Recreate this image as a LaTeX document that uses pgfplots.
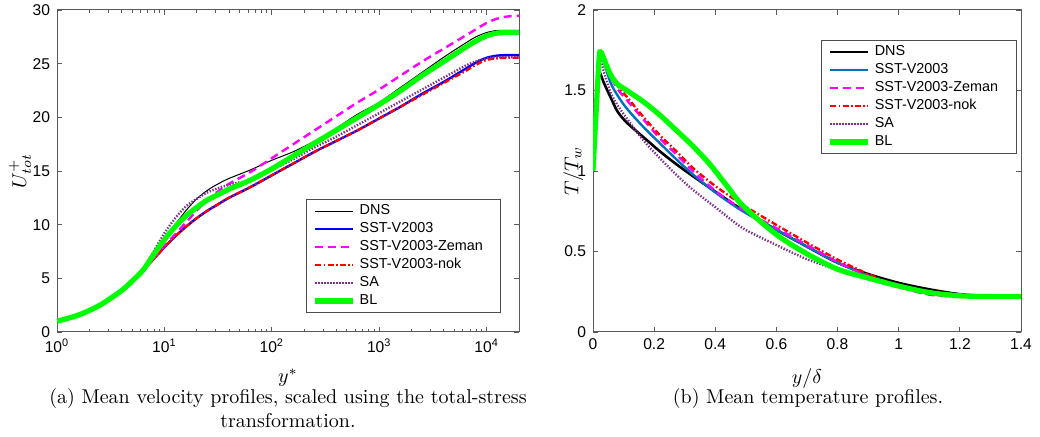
\documentclass[border=0pt]{standalone}
\usepackage{fontspec}
\usepackage{pgfplots}
\pgfplotsset{compat=1.18}
\newfontfamily\hv{Liberation Sans}
\definecolor{mblue}{rgb}{0,0,1}
\definecolor{mlblue}{rgb}{0,0.447,0.741}
\definecolor{mmag}{rgb}{1,0,1}
\definecolor{mred}{rgb}{1,0,0}
\definecolor{mpurp}{rgb}{0.494,0.184,0.557}
\definecolor{mgreen}{rgb}{0,1,0}
\pgfplotsset{
  mat/.style={
    scale only axis,
    axis line style={black!65, line width=0.5pt},
    tick style={black!65, line width=0.45pt},
    tick align=inside,
    major tick length=2.5pt,
    minor tick length=1.5pt,
    tick label style={font=\hv\fontsize{7.8}{9}\selectfont},
    /pgf/number format/assume math mode=true,
    label style={font=\fontsize{10}{12}\selectfont},
    legend cell align=left,
    legend image code/.code={\draw[##1] (0pt,0pt) -- (19pt,0pt);},
    legend style={font=\hv\fontsize{7.2}{8}\selectfont, draw=black!70, line width=0.5pt,
      inner xsep=3pt, inner ysep=2.5pt, row sep=2.5pt, column sep=2pt,
      nodes={inner sep=0pt, text height=5pt, text depth=1.5pt}},
  },
}
\begin{document}
\begin{tikzpicture}[x=1pt,y=1pt]
\useasboundingbox (0,0) rectangle (520,-218.5);
% ---------------- (a) ----------------
\begin{axis}[mat,
  at={(28.5pt,-166pt)}, anchor=south west,
  width=231pt, height=161pt,
  xmode=log, xmin=1, xmax=20000, ymin=0, ymax=30,
  xtick={1,10,100,1000,10000},
  xticklabels={10\textsuperscript{0},10\textsuperscript{1},10\textsuperscript{2},10\textsuperscript{3},10\textsuperscript{4}},
  minor xtick={2,3,4,5,6,7,8,9,20,30,40,50,60,70,80,90,200,300,400,500,600,700,800,900,2000,3000,4000,5000,6000,7000,8000,9000,20000},
  ytick={0,5,10,15,20,25,30},
  xlabel={$y^{*}$},
  xlabel style={at={(axis description cs:0.5,-0.143)}, anchor=center},
  ylabel={$U^{+}_{tot}$},
  ylabel style={at={(axis description cs:-0.08,0.5)}, anchor=center},
  legend style={at={(0.539,0.413)}, anchor=north west},
]
\addplot[black, line width=0.5pt, smooth] coordinates {
(1,1.0) (1.585,1.58) (2.512,2.5) (3.981,3.85) (5.012,4.75) (6.31,5.75)
(7.943,7.1) (10,8.6) (12.59,10.0) (15.85,11.3) (19.95,12.4) (25.12,13.2) (31.62,13.8) (39.81,14.3)
(63.1,15.1) (100,16.0) (158.5,16.8) (251.2,17.8) (398.1,19.0) (631,20.3) (1000,21.4) (1585,22.8)
(2512,24.2) (3981,25.6) (6310,26.9) (7943,27.5) (10000,27.9) (12589,28.1) (15849,28.1) (20000,28.1)};
\addlegendentry{DNS}
\addplot[mblue, line width=1.2pt, smooth] coordinates {
(1,1.0) (1.585,1.58) (2.512,2.5) (3.981,3.85) (5.012,4.75) (6.31,5.75)
(7.943,6.8) (10,7.9) (12.59,8.9) (15.85,9.8) (19.95,10.6) (25.12,11.3) (31.62,11.9) (39.81,12.5)
(63.1,13.5) (100,14.6) (158.5,15.7) (251.2,16.8) (398.1,17.8) (631,18.8) (1000,19.9) (1585,21.0)
(2512,22.2) (3981,23.3) (6310,24.5) (7943,25.1) (10000,25.55) (12589,25.75) (15849,25.8) (20000,25.8)};
\addlegendentry{SST-V2003}
\addplot[mmag, line width=1.2pt, dash pattern=on 4pt off 2.5pt, smooth] coordinates {
(1,1.0) (1.585,1.58) (2.512,2.5) (3.981,3.85) (5.012,4.75) (6.31,5.75)
(7.943,6.8) (10,8.0) (12.59,9.1) (15.85,10.2) (19.95,11.3) (25.12,12.3) (31.62,13.1) (39.81,13.8)
(63.1,14.9) (100,16.2) (158.5,17.5) (251.2,18.8) (398.1,20.1) (631,21.4) (1000,22.6) (1585,23.9)
(2512,25.2) (3981,26.4) (6310,27.6) (7943,28.2) (10000,28.8) (12589,29.2) (15849,29.4) (20000,29.45)};
\addlegendentry{SST-V2003-Zeman\hspace*{6pt}}
\addplot[mred, line width=1.2pt, dash pattern=on 3pt off 1.2pt on 0.8pt off 1.2pt, smooth] coordinates {
(1,1.0) (1.585,1.58) (2.512,2.5) (3.981,3.85) (5.012,4.75) (6.31,5.75)
(7.943,6.8) (10,7.9) (12.59,8.9) (15.85,9.8) (19.95,10.6) (25.12,11.3) (31.62,11.9) (39.81,12.5)
(63.1,13.5) (100,14.6) (158.5,15.7) (251.2,16.8) (398.1,17.8) (631,18.8) (1000,19.9) (1585,21.0)
(2512,22.1) (3981,23.2) (6310,24.3) (7943,24.9) (10000,25.35) (12589,25.5) (15849,25.55) (20000,25.55)};
\addlegendentry{SST-V2003-nok}
\addplot[mpurp, line width=1.2pt, dash pattern=on 0.7pt off 0.8pt, smooth] coordinates {
(1,1.0) (1.585,1.58) (2.512,2.5) (3.981,3.85) (5.012,4.75) (6.31,5.75)
(7.943,7.5) (10,9.2) (12.59,10.6) (15.85,11.7) (19.95,12.4) (25.12,13.0) (31.62,13.4) (39.81,13.7)
(63.1,14.2) (100,15.1) (158.5,16.1) (251.2,17.2) (398.1,18.2) (631,19.3) (1000,20.4) (1585,21.5)
(2512,22.6) (3981,23.7) (6310,24.8) (7943,25.2) (10000,25.5) (12589,25.6) (15849,25.6) (20000,25.6)};
\addlegendentry{SA}
\addplot[mgreen, line width=2.6pt, smooth] coordinates {
(1,1.0) (1.585,1.58) (2.512,2.5) (3.981,3.85) (5.012,4.75) (6.31,5.75)
(7.943,7.2) (10,8.6) (12.59,9.8) (15.85,10.8) (19.95,11.6) (25.12,12.3) (31.62,12.8) (39.81,13.3)
(63.1,14.15) (100,15.2) (158.5,16.4) (251.2,17.6) (398.1,18.8) (631,20.0) (1000,21.2) (1585,22.5)
(2512,23.9) (3981,25.2) (6310,26.5) (7943,27.1) (10000,27.6) (12589,27.85) (15849,27.9) (20000,27.9)};
\addlegendentry{BL}
\end{axis}
% ---------------- (b) ----------------
\begin{axis}[mat,
  at={(296.5pt,-166pt)}, anchor=south west,
  width=214pt, height=161pt,
  xmin=0, xmax=1.4, ymin=0, ymax=2,
  xtick={0,0.2,0.4,0.6,0.8,1,1.2,1.4},
  ytick={0,0.5,1,1.5,2},
  minor tick num=0,
  xlabel={$y/\delta$},
  xlabel style={at={(axis description cs:0.5,-0.143)}, anchor=center},
  ylabel={$T/T_w$},
  ylabel style={at={(axis description cs:-0.046,0.5)}, anchor=center},
  legend style={at={(0.533,0.907)}, anchor=north west},
]
\addplot[black, line width=1.3pt, smooth] coordinates {
(0.018,1.63) (0.025,1.60) (0.035,1.55) (0.057,1.46) (0.08,1.37) (0.111,1.30) (0.165,1.21) (0.22,1.12)
(0.274,1.04) (0.329,0.965) (0.405,0.865) (0.49,0.757) (0.6,0.634) (0.7,0.53) (0.8,0.43) (0.9,0.36)
(1.0,0.305) (1.1,0.265) (1.2,0.235) (1.3,0.222) (1.4,0.22)};
\addlegendentry{DNS}
\addplot[mlblue, line width=1.2pt, smooth] coordinates {
(0,1.0) (0.01,1.35) (0.02,1.68) (0.027,1.71) (0.035,1.68) (0.057,1.55) (0.08,1.47) (0.111,1.387)
(0.165,1.273) (0.22,1.17) (0.274,1.07) (0.329,0.975) (0.405,0.86) (0.49,0.75) (0.6,0.635) (0.7,0.53)
(0.8,0.43) (0.9,0.35) (1.0,0.285) (1.1,0.24) (1.2,0.222) (1.3,0.22) (1.4,0.22)};
\addlegendentry{SST-V2003}
\addplot[mmag, line width=1.2pt, dash pattern=on 4pt off 2.5pt, smooth] coordinates {
(0,1.0) (0.01,1.35) (0.02,1.68) (0.028,1.72) (0.04,1.68) (0.057,1.59) (0.08,1.51) (0.111,1.44)
(0.165,1.32) (0.22,1.20) (0.274,1.10) (0.329,0.995) (0.405,0.87) (0.49,0.76) (0.6,0.645) (0.7,0.54)
(0.8,0.435) (0.9,0.35) (1.0,0.28) (1.1,0.232) (1.2,0.22) (1.3,0.22) (1.4,0.22)};
\addlegendentry{SST-V2003-Zeman\hspace*{6pt}}
\addplot[mred, line width=1.2pt, dash pattern=on 3pt off 1.2pt on 0.8pt off 1.2pt, smooth] coordinates {
(0,1.0) (0.01,1.35) (0.02,1.68) (0.028,1.72) (0.04,1.68) (0.057,1.60) (0.08,1.53) (0.111,1.46)
(0.165,1.335) (0.22,1.22) (0.274,1.12) (0.329,1.015) (0.405,0.90) (0.49,0.79) (0.6,0.665) (0.7,0.555)
(0.8,0.45) (0.9,0.36) (1.0,0.285) (1.1,0.235) (1.2,0.22) (1.3,0.22) (1.4,0.22)};
\addlegendentry{SST-V2003-nok}
\addplot[mpurp, line width=1.2pt, dash pattern=on 0.7pt off 0.8pt, smooth] coordinates {
(0,1.0) (0.01,1.35) (0.02,1.66) (0.025,1.69) (0.035,1.62) (0.057,1.49) (0.08,1.41) (0.111,1.325)
(0.165,1.19) (0.22,1.077) (0.274,0.974) (0.329,0.88) (0.405,0.768) (0.49,0.645) (0.6,0.54) (0.7,0.452)
(0.8,0.385) (0.9,0.33) (1.0,0.28) (1.1,0.24) (1.2,0.222) (1.3,0.22) (1.4,0.22)};
\addlegendentry{SA}
\addplot[mgreen, line width=2.6pt, smooth] coordinates {
(0,1.0) (0.01,1.36) (0.02,1.70) (0.025,1.74) (0.035,1.70) (0.057,1.60) (0.08,1.54) (0.111,1.50)
(0.165,1.43) (0.22,1.345) (0.274,1.25) (0.329,1.15) (0.383,1.04) (0.437,0.91) (0.49,0.785) (0.6,0.605)
(0.7,0.485) (0.8,0.39) (0.9,0.335) (1.0,0.285) (1.1,0.245) (1.2,0.225) (1.3,0.22) (1.4,0.22)};
\addlegendentry{BL}
\end{axis}
% ---------------- captions ----------------
\node[font=\fontsize{10}{12}\selectfont] at (144,-199.5) {(a) Mean velocity profiles, scaled using the total-stress};
\node[font=\fontsize{10}{12}\selectfont] at (144,-210.5) {transformation.};
\node[font=\fontsize{10}{12}\selectfont] at (404,-199.5) {(b) Mean temperature profiles.};
\end{tikzpicture}
\end{document}
